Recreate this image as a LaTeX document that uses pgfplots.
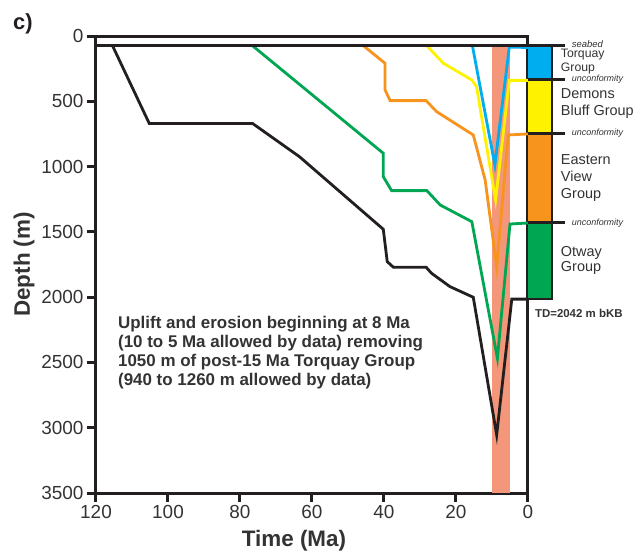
\documentclass[border=0pt]{standalone}
\usepackage{pgfplots}
\pgfplotsset{compat=1.18}
\usepackage{fontspec}
\setmainfont{Liberation Sans}
\definecolor{cblue}{HTML}{00AEEF}
\definecolor{cyellow}{HTML}{FFF200}
\definecolor{corange}{HTML}{F7941D}
\definecolor{cgreen}{HTML}{00A651}
\definecolor{csalmon}{HTML}{F4967A}
\definecolor{cblack}{HTML}{231F20}
\definecolor{ctext}{HTML}{333333}
\begin{document}
\begin{tikzpicture}
\begin{axis}[
  scale only axis, width=432bp, height=457bp,
  x dir=reverse, y dir=reverse,
  xmin=0, xmax=120, ymin=0, ymax=3500,
  xtick={0,20,...,120}, ytick={0,500,...,3500},
  axis line style={line width=3bp, cblack},
  tick style={line width=3bp, cblack},
  major tick length=9bp, tick align=outside,
  xtick pos=bottom, ytick pos=left,
  tick label style={font=\fontsize{19}{22}\selectfont, text=ctext},
  /pgf/number format/assume math mode=true,
  /pgf/number format/set thousands separator={},
  clip=false,
]
\coordinate (BL) at (axis cs:120,3500);
\coordinate (TR) at (axis cs:0,0);
% uplift window
\addplot[fill=csalmon, draw=none] coordinates {(10,75) (5,75) (5,3500) (10,3500)} -- cycle;
% burial curves
\addplot[cblack, line width=2.8bp] coordinates {(115.4,75) (105.2,670) (76.5,670) (63.5,924) (40.2,1480) (39.1,1728) (37.4,1771) (28.3,1771) (26.8,1817) (21.7,1919) (15.2,2001) (8.7,3055) (4.5,2015) (0,2015)};
\addplot[cgreen, line width=2.8bp] coordinates {(76.5,75) (40.2,898) (40.2,1077) (37.9,1184) (28.1,1184) (24.4,1294) (15.6,1422) (8.5,2468) (5,1440) (0,1432)};
\addplot[corange, line width=2.8bp] coordinates {(45.7,75) (39.7,209) (39.7,413) (38.3,495) (28.3,495) (25.4,579) (15.2,758) (11.9,1103) (8.7,1767) (5.5,758) (0,750)};
\addplot[cyellow, line width=2.8bp] coordinates {(28.1,75) (23.5,209) (15.6,337) (14.3,388) (9.0,1256) (5.2,340) (0,340)};
\addplot[cblue, line width=2.8bp] coordinates {(15.4,80) (9.2,988) (5.2,85) (0,88)};
% stratigraphic column
\addplot[fill=cblue, draw=none] coordinates {(0,75) (-6.67,75) (-6.67,332) (0,332)} -- cycle;
\addplot[fill=cyellow, draw=none] coordinates {(0,332) (-6.67,332) (-6.67,745) (0,745)} -- cycle;
\addplot[fill=corange, draw=none] coordinates {(0,745) (-6.67,745) (-6.67,1430) (0,1430)} -- cycle;
\addplot[fill=cgreen, draw=none] coordinates {(0,1430) (-6.67,1430) (-6.67,2015) (0,2015)} -- cycle;
\addplot[cblack, line width=2.6bp] coordinates {(0,75) (-6.67,75) (-6.67,2015) (0,2015)};
\addplot[cblack, line width=2.6bp] coordinates {(0,332) (-10.3,332)};
\addplot[cblack, line width=2.6bp] coordinates {(0,745) (-10.3,745)};
\addplot[cblack, line width=2.6bp] coordinates {(0,1430) (-10.3,1430)};
% seabed
\addplot[cblack, line width=3bp] coordinates {(120,75) (-10.3,75)};
% labels
\node[anchor=west, font=\itshape\fontsize{9.5}{10}\selectfont, text=ctext] at (axis cs:-11.2,61) {seabed};
\node[anchor=west, font=\itshape\fontsize{9}{10}\selectfont, text=ctext] at (axis cs:-11.2,332) {unconformity};
\node[anchor=west, font=\itshape\fontsize{9}{10}\selectfont, text=ctext] at (axis cs:-11.2,745) {unconformity};
\node[anchor=west, font=\itshape\fontsize{9}{10}\selectfont, text=ctext] at (axis cs:-11.2,1430) {unconformity};
\node[anchor=west, align=left, inner sep=0pt, font=\fontsize{12.3}{13.5}\selectfont, text=ctext] at (axis cs:-9.1,197) {Torquay\\Group};
\node[anchor=west, align=left, inner sep=0pt, font=\fontsize{14.5}{16.3}\selectfont, text=ctext] at (axis cs:-9.1,518) {Demons\\Bluff Group};
\node[anchor=west, align=left, inner sep=0pt, font=\fontsize{14.5}{16.8}\selectfont, text=ctext] at (axis cs:-9.1,1086) {Eastern\\View\\Group};
\node[anchor=west, align=left, inner sep=0pt, font=\fontsize{14.5}{15.5}\selectfont, text=ctext] at (axis cs:-9.1,1721) {Otway\\Group};
\node[anchor=west, inner sep=0pt, font=\bfseries\fontsize{11.5}{13}\selectfont, text=ctext] at (axis cs:-1.9,2123) {TD=2042 m bKB};
\node[anchor=west, align=left, inner sep=0pt, font=\bfseries\fontsize{17}{19.2}\selectfont, text=ctext] at (axis cs:113.9,2426) {Uplift and erosion beginning at 8 Ma\\(10 to 5 Ma allowed by data) removing\\1050 m of post-15 Ma Torquay Group\\(940 to 1260 m allowed by data)};
\node[font=\bfseries\fontsize{22.5}{26}\selectfont, text=ctext] at (axis cs:65,3867) {Time (Ma)};
\node[rotate=90, font=\bfseries\fontsize{22.5}{26}\selectfont, text=ctext] at (axis cs:140,1750) {Depth (m)};
\node[font=\bfseries\fontsize{22}{26}\selectfont, text=cblack] at (axis cs:140.3,-90) {c)};
\end{axis}
\pgfresetboundingbox
\path[use as bounding box] ([shift={(-96bp,-61bp)}]BL) rectangle ([shift={(109bp,36bp)}]TR);
\end{tikzpicture}
\end{document}
